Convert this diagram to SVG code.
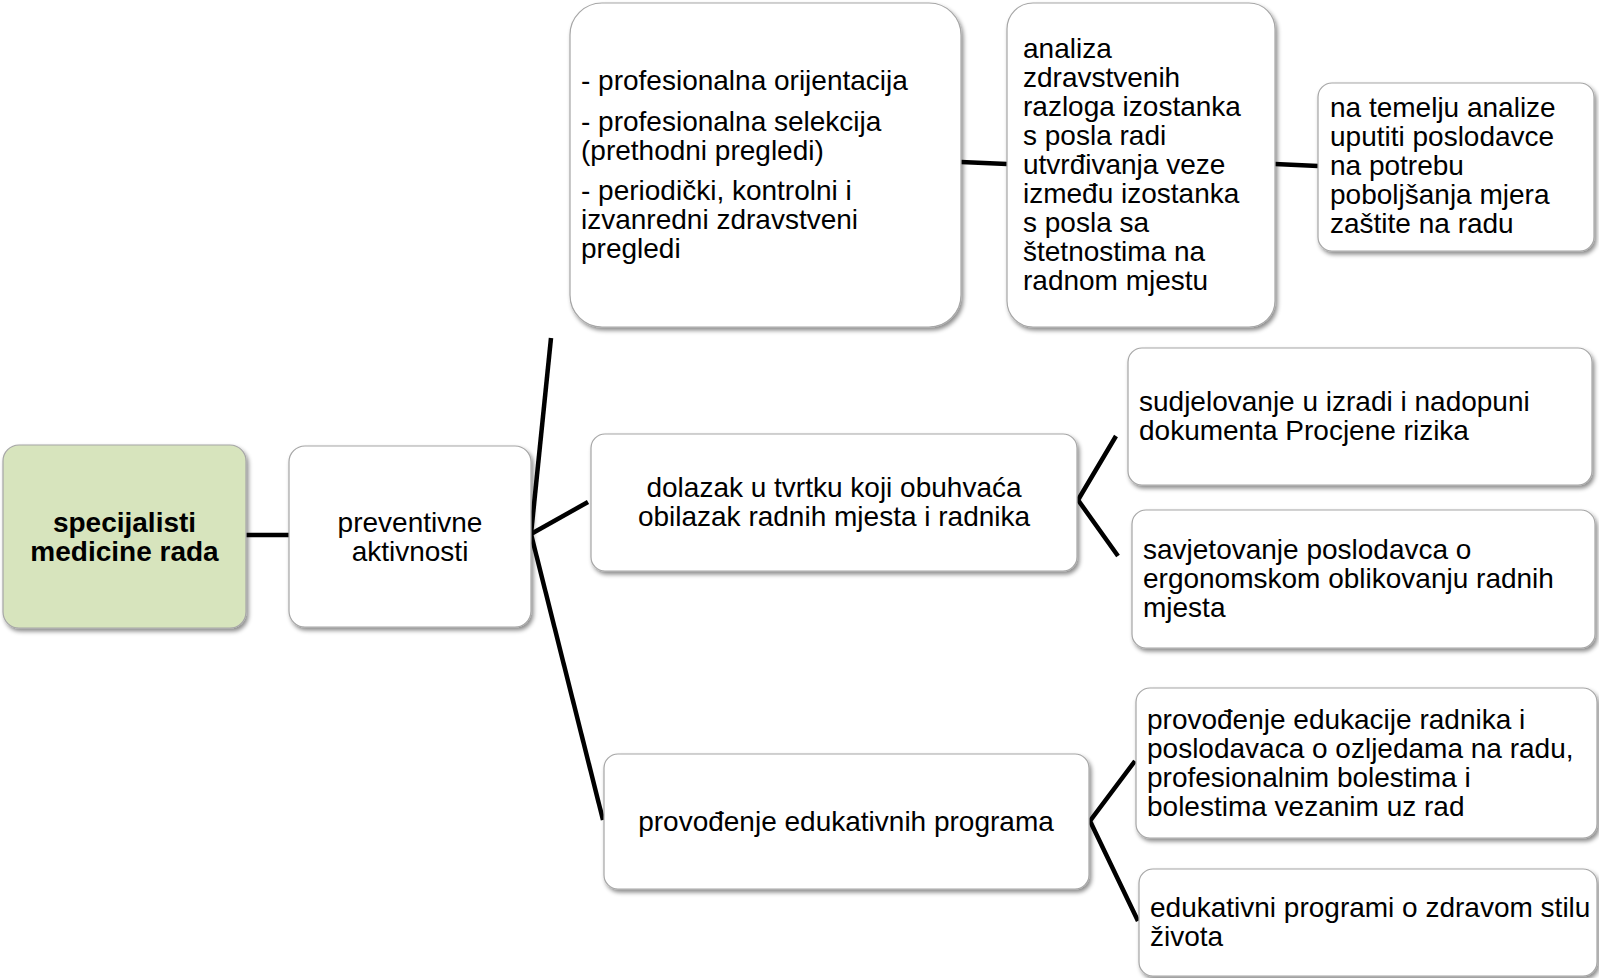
<svg xmlns="http://www.w3.org/2000/svg" width="1599" height="978" viewBox="0 0 1599 978">
<style>
.box{fill:#ffffff;stroke:#a6a6a6;stroke-width:1.2;filter:url(#sh)}
.green{fill:#d7e4bd}
.t{font-family:"Liberation Sans",Arial,sans-serif;font-size:28px;fill:#000}
.c{text-anchor:middle}
.b{font-weight:bold}
.ln{stroke:#000;stroke-width:4.5;fill:none;stroke-linecap:butt}
</style>
<defs>
<filter id="sh" x="-10%" y="-10%" width="125%" height="130%">
<feDropShadow dx="2" dy="3" stdDeviation="2" flood-color="#000" flood-opacity="0.45"/>
</filter>
</defs>
<rect width="1599" height="978" fill="#fff"/>
<g id="connectors">
<line class="ln" x1="246" y1="535" x2="289" y2="535"/>
<line class="ln" x1="531" y1="534" x2="551" y2="338"/>
<line class="ln" x1="531" y1="534" x2="588" y2="502"/>
<line class="ln" x1="531" y1="534" x2="603" y2="820"/>
<line class="ln" x1="961" y1="162" x2="1007" y2="164"/>
<line class="ln" x1="1275" y1="164" x2="1318" y2="166"/>
<polyline class="ln" points="1116,436 1078,500 1118,556"/>
<polyline class="ln" points="1135,761 1090,821 1138,921"/>
</g>
<g id="n-specijalisti">
<rect class="box green" x="3" y="445" width="243" height="183" rx="16"/>
<text class="t c b" x="124.5" y="532">specijalisti</text>
<text class="t c b" x="124.5" y="561">medicine rada</text>
</g>
<g id="n-preventivne">
<rect class="box" x="289" y="446" width="242" height="181" rx="16"/>
<text class="t c" x="410" y="532">preventivne</text>
<text class="t c" x="410" y="561">aktivnosti</text>
</g>
<g id="n-pregledi">
<rect class="box" x="570" y="3" width="391" height="324" rx="32"/>
<text class="t" x="581" y="90">- profesionalna orijentacija</text>
<text class="t" x="581" y="131">- profesionalna selekcija</text>
<text class="t" x="581" y="160">(prethodni pregledi)</text>
<text class="t" x="581" y="200">- periodički, kontrolni i</text>
<text class="t" x="581" y="229">izvanredni zdravstveni</text>
<text class="t" x="581" y="258">pregledi</text>
</g>
<g id="n-analiza">
<rect class="box" x="1007" y="3" width="268" height="324" rx="26"/>
<text class="t" x="1023" y="58">analiza</text>
<text class="t" x="1023" y="87">zdravstvenih</text>
<text class="t" x="1023" y="116">razloga izostanka</text>
<text class="t" x="1023" y="145">s posla radi</text>
<text class="t" x="1023" y="174">utvrđivanja veze</text>
<text class="t" x="1023" y="203">između izostanka</text>
<text class="t" x="1023" y="232">s posla sa</text>
<text class="t" x="1023" y="261">štetnostima na</text>
<text class="t" x="1023" y="290">radnom mjestu</text>
</g>
<g id="n-temelju">
<rect class="box" x="1318" y="83" width="276" height="168" rx="14"/>
<text class="t" x="1330" y="117">na temelju analize</text>
<text class="t" x="1330" y="146">uputiti poslodavce</text>
<text class="t" x="1330" y="175">na potrebu</text>
<text class="t" x="1330" y="204">poboljšanja mjera</text>
<text class="t" x="1330" y="233">zaštite na radu</text>
</g>
<g id="n-dolazak">
<rect class="box" x="591" y="434" width="486" height="137" rx="14"/>
<text class="t c" x="834" y="497">dolazak u tvrtku koji obuhvaća</text>
<text class="t c" x="834" y="526">obilazak radnih mjesta i radnika</text>
</g>
<g id="n-sudjelovanje">
<rect class="box" x="1128" y="348" width="464" height="137" rx="14"/>
<text class="t" x="1139" y="411">sudjelovanje u izradi i nadopuni</text>
<text class="t" x="1139" y="440">dokumenta Procjene rizika</text>
</g>
<g id="n-savjetovanje">
<rect class="box" x="1132" y="510" width="463" height="138" rx="14"/>
<text class="t" x="1143" y="559">savjetovanje poslodavca o</text>
<text class="t" x="1143" y="588">ergonomskom oblikovanju radnih</text>
<text class="t" x="1143" y="617">mjesta</text>
</g>
<g id="n-edukativnih">
<rect class="box" x="604" y="754" width="485" height="135" rx="14"/>
<text class="t c" x="846" y="831">provođenje edukativnih programa</text>
</g>
<g id="n-edukacije">
<rect class="box" x="1136" y="688" width="461" height="150" rx="14"/>
<text class="t" x="1147" y="729">provođenje edukacije radnika i</text>
<text class="t" x="1147" y="758">poslodavaca o ozljedama na radu,</text>
<text class="t" x="1147" y="787">profesionalnim bolestima i</text>
<text class="t" x="1147" y="816">bolestima vezanim uz rad</text>
</g>
<g id="n-stilu">
<rect class="box" x="1139" y="869" width="458" height="107" rx="14"/>
<text class="t" x="1150" y="917">edukativni programi o zdravom stilu</text>
<text class="t" x="1150" y="946">života</text>
</g>
</svg>
